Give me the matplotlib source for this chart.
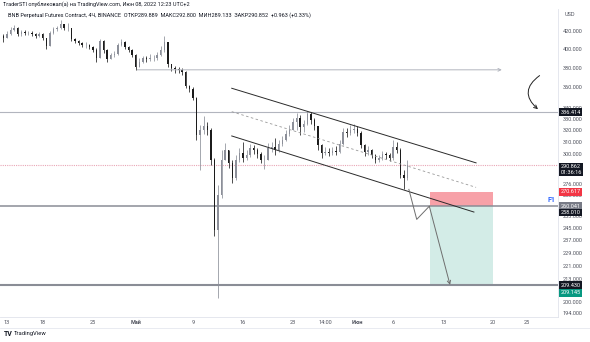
import numpy as np
import matplotlib.pyplot as plt
from matplotlib.patches import Rectangle, FancyArrowPatch
from matplotlib.ticker import NullLocator, NullFormatter
from matplotlib.transforms import blended_transform_factory

plt.rcParams['font.family'] = ['Roboto', 'DejaVu Sans']

# BNB, 12h свечи, день 0 = 13 апреля
first_open = 414.7
close = [412.4, 416.9, 421.6, 423.9, 416.9, 419.3, 418.1, 418.1, 416.9, 414.7,
         416.9, 412.4, 403.4, 418.1, 422.7, 423.9, 428.5, 423.9, 423.9, 411.2,
         409.0, 406.8, 404.5, 404.5, 402.3, 399.0, 390.4, 409.0, 399.0, 389.3,
         393.6, 394.7, 404.5, 407.9, 402.3, 399.0, 393.6, 380.9, 386.2, 390.4,
         389.3, 390.4, 390.4, 393.6, 399.0, 407.9, 384.0, 379.9, 378.8, 377.8,
         375.7, 361.5, 358.5, 349.8, 316.1, 320.4, 323.9, 320.4, 295.1, 243.6,
         268.1, 295.1, 303.3, 292.7, 280.9, 295.1, 300.8, 296.7, 299.2, 304.9,
         303.3, 300.0, 295.1, 295.1, 304.9, 305.8, 303.3, 308.3, 311.8, 316.9,
         320.4, 327.5, 331.1, 323.1, 325.7, 334.8, 329.3, 323.9, 307.5, 300.8,
         301.6, 300.8, 302.5, 301.6, 308.3, 318.7, 317.8, 320.4, 321.3, 317.8,
         307.5, 301.6, 303.3, 299.2, 295.1, 296.7, 300.0, 299.2, 296.7, 305.8,
         303.3, 283.2, 280.9, 290.86]
high = [416.9, 420.4, 425.0, 427.3, 425.0, 421.6, 421.6, 420.4, 420.4, 418.1,
        419.3, 418.1, 412.4, 420.4, 425.0, 426.2, 433.2, 428.5, 429.7, 423.9,
        412.4, 410.1, 407.9, 407.9, 405.6, 403.4, 401.2, 411.2, 410.1, 400.1,
        395.8, 397.9, 406.8, 411.2, 409.0, 403.4, 400.1, 394.7, 390.4, 392.6,
        392.6, 394.7, 393.6, 396.9, 403.4, 414.7, 406.8, 384.0, 382.0, 380.9,
        379.9, 376.7, 362.5, 360.5, 350.5, 324.8, 333.0, 327.5, 322.2, 296.7,
        275.5, 303.3, 309.2, 303.3, 295.1, 299.2, 304.9, 310.1, 303.3, 308.3,
        307.5, 304.9, 301.6, 299.2, 309.2, 310.1, 313.5, 311.8, 315.2, 320.4,
        324.8, 331.1, 335.7, 333.9, 329.3, 337.5, 336.6, 331.1, 323.9, 308.3,
        305.8, 304.9, 305.8, 306.6, 311.8, 322.2, 322.2, 324.8, 325.7, 323.9,
        319.6, 308.3, 306.6, 304.1, 300.0, 299.2, 302.5, 301.6, 300.8, 311.8,
        310.1, 304.9, 287.1, 295.1]
low = [407.9, 412.4, 415.8, 420.4, 414.7, 414.7, 415.8, 415.8, 414.7, 412.4,
       413.5, 410.1, 400.1, 403.4, 416.9, 420.4, 422.7, 421.6, 420.4, 409.0,
       406.8, 404.5, 402.3, 401.2, 400.1, 396.9, 386.2, 390.4, 395.8, 386.2,
       389.3, 391.5, 393.6, 403.4, 400.1, 396.9, 391.5, 377.8, 380.9, 385.1,
       386.2, 387.2, 387.2, 388.3, 392.6, 396.9, 380.9, 376.7, 374.7, 374.7,
       372.6, 359.5, 355.6, 347.9, 311.8, 287.1, 316.9, 316.1, 291.1, 239.6,
       202.2, 265.9, 296.7, 288.7, 277.0, 279.3, 293.5, 293.5, 295.1, 297.5,
       300.0, 296.7, 292.7, 287.9, 295.1, 301.6, 299.2, 301.6, 306.6, 310.9,
       315.2, 320.4, 320.4, 316.1, 318.7, 324.8, 325.7, 320.4, 303.3, 296.7,
       299.2, 298.4, 299.2, 299.2, 300.8, 307.5, 314.3, 316.1, 317.8, 315.2,
       304.9, 298.4, 299.2, 296.7, 292.7, 293.5, 295.1, 295.9, 294.3, 295.1,
       300.8, 280.9, 272.5, 279.3]

# уровни
level_ray = 377.8
level_top = 336.414
level_entry = 260.041
level_stop = 270.617
level_target = 209.145
level_low = 209.430
last_price = 290.862

# канал (день, цена)
chan_days = [31.43, 65.6]
chan_top = [359.2, 292.8]
chan_mid = [336.9, 273.8]
chan_bot_days = [31.43, 65.3]
chan_bot = [315.2, 255.9]

zig_days = [56.2, 57.3, 59.06, 61.96]
zig_prices = [272.3, 250.8, 260.0, 209.6]
box_days = [59.2, 68.0]
ray_days = [18.2, 69.2]

date_ticks = [0, 5, 12, 18, 26, 33, 40, 44.5, 49, 54, 61, 68, 72.7]
date_labels = ['13', '18', '25', 'Май', '9', '16', '23', '14:00', 'Июн', '6', '13', '20', '25']
price_ticks = [420, 400, 380, 360, 340, 330, 320, 310, 300, 276, 268, 253, 245,
               237, 229, 221, 213, 200, 194]

fig = plt.figure(figsize=(5.9, 3.42), dpi=100)
ax = fig.add_axes([0, 0.0731, 0.9458, 0.9006])
ax.set_yscale('log')

# свечи
n = len(close)
t = np.arange(n) * 0.5 - 0.5
opens = [first_open] + close[:-1]
for i in range(n):
    o, c = opens[i], close[i]
    col = '#8c8f99' if c >= o else '#1c1c1c'
    ax.vlines(t[i], min(low[i], o, c), max(high[i], o, c), color=col, lw=0.55, zorder=3)
    ax.bar(t[i], abs(c - o), bottom=min(o, c), width=0.2, color=col, lw=0, zorder=3)

# горизонтальные уровни
ax.axhline(level_top, color='#b2b5be', lw=0.8, zorder=2)
ax.axhline(level_entry, color='#8a8d96', lw=1.1, zorder=2)
ax.axhline(level_low, color='#8a8d96', lw=1.5, zorder=2)
ax.axhline(last_price, color='#e9a6b6', lw=0.8, ls=(0, (1, 1)), zorder=2)
ax.annotate('', xy=(ray_days[1], level_ray), xytext=(ray_days[0], level_ray),
            arrowprops=dict(arrowstyle='->', color='#b2b5be', lw=0.7, mutation_scale=5,
                            shrinkA=0, shrinkB=0))

# позиция шорт
ax.add_patch(Rectangle((box_days[0], level_entry), box_days[1] - box_days[0],
                       level_stop - level_entry, fc='#f7a1a8', ec='none', zorder=1))
ax.add_patch(Rectangle((box_days[0], level_target), box_days[1] - box_days[0],
                       level_entry - level_target, fc='#d3ece7', ec='none', zorder=1))

# канал
ax.plot(chan_days, chan_top, color='#2a2a2a', lw=0.7, zorder=4)
ax.plot(chan_days, chan_mid, color='#9a9a9a', lw=0.6, ls=(0, (3, 3)), zorder=4)
ax.plot(chan_bot_days, chan_bot, color='#2a2a2a', lw=0.7, zorder=4)

# зигзаг
ax.plot(zig_days[:3], zig_prices[:3], color='#6e6e6e', lw=0.7, zorder=4)
ax.annotate('', xy=(zig_days[3], zig_prices[3]), xytext=(zig_days[2], zig_prices[2]),
            arrowprops=dict(arrowstyle='->', color='#6e6e6e', lw=0.7, mutation_scale=6,
                            shrinkA=0, shrinkB=0), zorder=4)

# дуга-стрелка
arc = FancyArrowPatch((74.8, 373.5), (74.55, 337.5), connectionstyle='arc3,rad=0.68',
                      arrowstyle='->', mutation_scale=6, lw=0.7, color='#222222', zorder=4)
ax.add_patch(arc)

ax.text(0.995, level_entry * 1.006, 'F1', color='#2962ff', fontsize=5, fontweight='bold',
        ha='right', va='bottom', transform=blended_transform_factory(ax.transAxes, ax.transData))

ax.set_xlim(-0.98, 77.06)
ax.set_ylim(191.96, 446.3)
ax.set_xticks(date_ticks)
ax.set_xticklabels(date_labels)
for lbl in ax.get_xticklabels():
    if lbl.get_text() in ('Май', 'Июн'):
        lbl.set_fontweight('bold')
ax.yaxis.tick_right()
ax.set_yticks(price_ticks)
ax.set_yticklabels([f'{v:.3f}' for v in price_ticks])
ax.yaxis.set_minor_locator(NullLocator())
ax.yaxis.set_minor_formatter(NullFormatter())
ax.tick_params(axis='x', length=0, labelsize=4, colors='#50535e', pad=2)
ax.tick_params(axis='y', length=0, labelsize=4, colors='#50535e', pad=3.5)
for s in ['left', 'top']:
    ax.spines[s].set_visible(False)
for s in ['right', 'bottom']:
    ax.spines[s].set_color('#e0e3eb')
    ax.spines[s].set_linewidth(0.6)

# ценовые метки справа
tr = blended_transform_factory(ax.transAxes, ax.transData)
labels = [
    (level_top, '336.414', '#131722', 0),
    (last_price, '290.862\n01:36:16', '#131722', -3),
    (level_stop, '270.617', '#f23645', 0),
    (level_entry, '260.041', '#787b86', 0),
    (level_entry, '258.010', '#131722', -4.5),
    (level_low, '209.430', '#131722', 0),
    (level_target, '209.145', '#089981', -5),
]
for price, txt, fc, dy in labels:
    ax.annotate(txt, xy=(1.004, price), xycoords=tr, xytext=(0, dy), textcoords='offset points',
                fontsize=4, color='white', ha='left', va='center', annotation_clip=False,
                bbox=dict(boxstyle='square,pad=0.25', fc=fc, ec='none'), zorder=6)

fig.text(565 / 590, 1 - 14 / 342, 'USD', fontsize=4, color='#50535e', va='center')
fig.text(3 / 590, 1 - 4 / 342,
         'TraderSTI опубликовал(а) на TradingView.com, Июн 08, 2022 12:23 UTC+2',
         fontsize=4, color='#131722', va='center')
fig.text(8 / 590, 1 - 15 / 342,
         'BNB Perpetual Futures Contract, 4Ч, BINANCE  ОТКР289.889  МАКС292.800  МИН289.133  '
         'ЗАКР290.852  +0.963 (+0.33%)', fontsize=4, color='#131722', va='center')
fig.text(4 / 590, 1 - 334 / 342, 'TV', fontsize=5, fontweight='bold', color='#131722', va='center')
fig.text(14 / 590, 1 - 334 / 342, 'TradingView', fontsize=4.2, color='#131722', va='center')
fig.add_artist(plt.Line2D([0, 1], [1 - 328 / 342] * 2, color='#e0e3eb', lw=0.5))

fig.savefig('out.png', dpi=100)
